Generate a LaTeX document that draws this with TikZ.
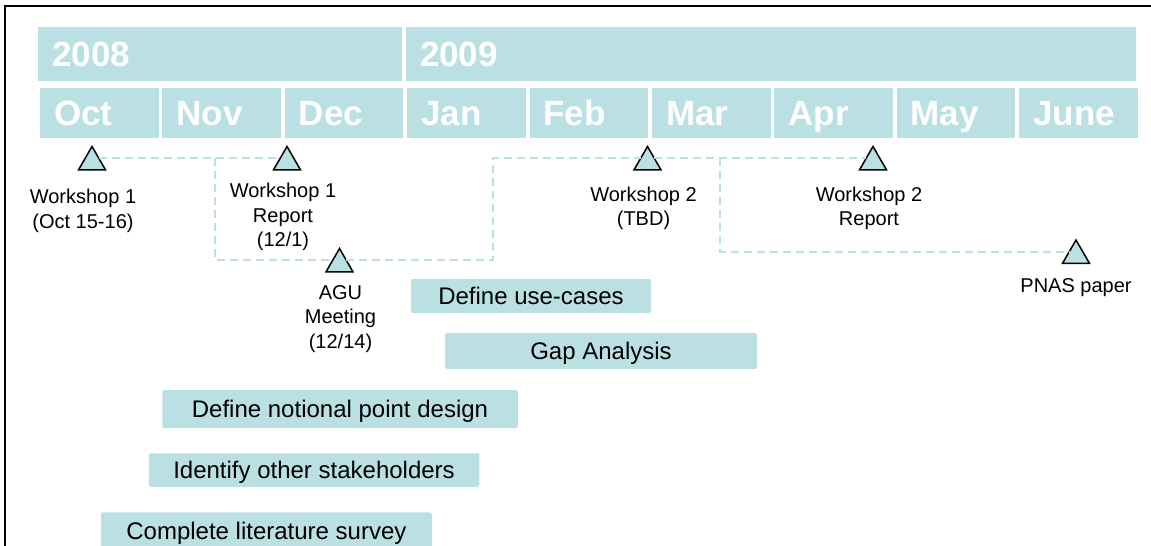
\documentclass[tikz,border=0pt]{standalone}
\usepackage{fontspec}
\setmainfont{Liberation Sans}
\usetikzlibrary{shapes.geometric, positioning}
\definecolor{paleblue}{RGB}{187,224,227}

\begin{document}
\begin{tikzpicture}[x=1pt, y=-1pt, font=\fontsize{20}{24.5}\selectfont]
  \tikzstyle{header}=[fill=paleblue, text=white, font=\fontsize{35}{42}\selectfont\bfseries, inner xsep=14pt, inner ysep=0pt, align=left, text height=25pt, text depth=0pt]
  \tikzstyle{milestone}=[regular polygon, regular polygon sides=3, minimum size=31pt, inner sep=0pt, outer sep=0pt, draw=black, line width=1.5pt, fill=paleblue]
  \tikzstyle{note}=[inner sep=0pt, align=center]
  \tikzstyle{task}=[fill=paleblue, rounded corners=2pt, font=\fontsize{24}{29}\selectfont, text height=17pt, text depth=0pt, inner sep=0pt]
  \tikzstyle{link}=[draw=paleblue, line width=1.8pt, dash pattern=on 8pt off 5pt]

  \useasboundingbox (0,0) rectangle (1151,546);
  \clip (0,0) rectangle (1151,546);
  \draw[line width=2pt] (1151,5.5) -- (5,5.5) -- (5,546);

  \node[header, minimum height=54pt, text width=335.7pt] (y8) at (220.15,54) {2008};
  \node[header, minimum height=54pt, text width=702pt]   (y9) at (771,54)    {2009};
  \foreach \m [count=\i from 0] in {Oct,Nov,Dec,Jan,Feb,Mar,Apr,May,June}
    \node[header, minimum height=50pt, text width=90.5pt] (m\i) at ({99.25+122.4*\i},113.3) {\m};

  \node[milestone] (ws1)  at (92,162)    {};
  \node[milestone] (rep1) at (287,162)   {};
  \node[milestone] (agu)  at (339.5,264) {};
  \node[milestone] (ws2)  at (647.5,162) {};
  \node[milestone] (rep2) at (873,162)   {};
  \node[milestone] (pnas) at (1076,255.5) {};

  \node[note, below=19.25pt of ws1, xshift=-9pt] (ws1t)  {Workshop 1\\(Oct 15-16)};
  \node[note, below=13.25pt of rep1, xshift=-4pt] (rep1t) {Workshop 1\\Report\\(12/1)};
  \node[note, below=13.25pt of agu, xshift=1pt]   (agut)  {AGU\\Meeting\\(12/14)};
  \node[note, below=17pt of ws2, xshift=-4pt]     (ws2t)  {Workshop 2\\(TBD)};
  \node[note, below=17pt of rep2, xshift=-4pt]    (rep2t) {Workshop 2\\Report};
  \node[note, below=15pt of pnas]                 (pnast) {PNAS paper};

  \coordinate (j1) at (215,158.125);
  \coordinate (j2) at (493,158.125);
  \coordinate (j3) at (720,158.125);

  \draw[link] (ws1.side 3) -- (rep1.side 1);
  \draw[link] (j1) |- (agu.side 1);
  \draw[link] (agu.side 3) -| (j2) -- (ws2.side 1);
  \draw[link] (ws2.side 3) -- (rep2.side 1);
  \draw[link] (j3) |- (pnas.side 1);

  \node[task, minimum width=240pt, minimum height=34pt]     (uc)  at (531,296)   {Define use-cases};
  \node[task, minimum width=312pt, minimum height=36pt]     (gap) at (601,351)   {Gap Analysis};
  \node[task, minimum width=355.5pt, minimum height=38pt]   (npd) at (340,409)   {Define notional point design};
  \node[task, minimum width=330.5pt, minimum height=33.5pt] (sth) at (314,470)   {Identify other stakeholders};
  \node[task, minimum width=330.7pt, minimum height=37.5pt] (lit) at (266.4,531) {Complete literature survey};
\end{tikzpicture}
\end{document}
